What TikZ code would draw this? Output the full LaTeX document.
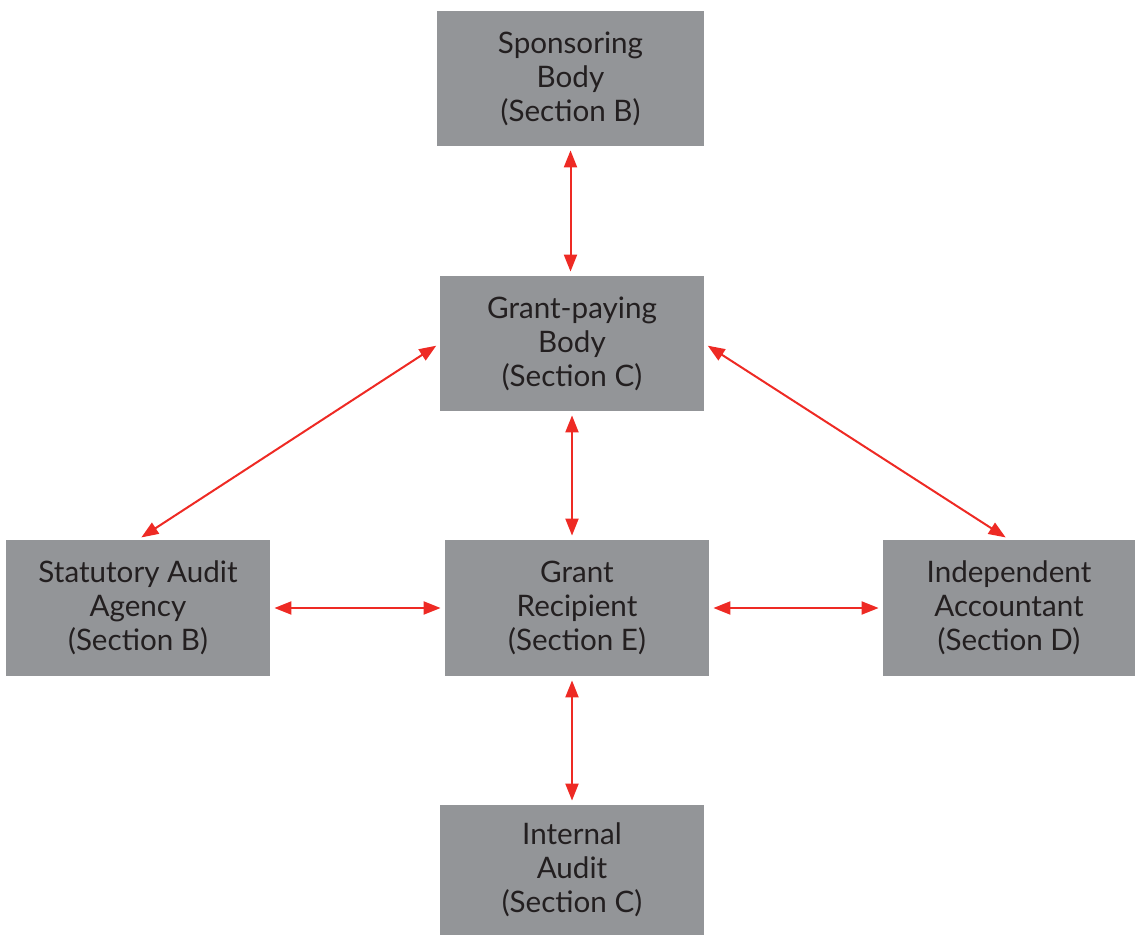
\documentclass[tikz,border=0pt]{standalone}
\usepackage{fontspec}
\setmainfont{Lato}
\usetikzlibrary{arrows.meta}
\definecolor{boxgray}{HTML}{939598}
\definecolor{linkred}{HTML}{EE2A24}
\definecolor{inkgray}{HTML}{231F20}
\tikzset{
  body/.style={fill=boxgray, draw=none, align=center, text=inkgray,
    font=\fontsize{14.8}{17}\selectfont, inner sep=0pt},
  link/.style={linkred, line width=1pt, {Triangle[length=8.5pt,width=6.5pt]}-{Triangle[length=8.5pt,width=6.5pt]},
    shorten <=2pt, shorten >=2pt}
}
\begin{document}
\begin{tikzpicture}[x=0.5pt, y=-0.5pt]
      \useasboundingbox (0,0) rectangle (1136,936);
      \draw
        (570.5,78.5) node[body, minimum width=133.5pt, minimum height=67.5pt] (spon){Sponsoring\\Body\\(Section B)}
        (572,343.5) node[body, minimum width=132pt, minimum height=67.5pt] (gpb){Grant-paying\\Body\\(Section C)}
        (138,608) node[body, minimum width=132pt, minimum height=68pt] (saa){Statutory Audit\\Agency\\(Section B)}
        (577,608) node[body, minimum width=132pt, minimum height=68pt] (gr){Grant\\Recipient\\(Section E)}
        (1009,608) node[body, minimum width=126pt, minimum height=68pt] (ia){Independent\\Accountant\\(Section D)}
        (572,870) node[body, minimum width=132pt, minimum height=65pt] (int){Internal\\Audit\\(Section C)};
      \begin{scope}[link]
        \draw (spon.south) to (spon.south |- gpb.north);
        \draw (gpb.west) to (saa.north);
        \draw (gpb.east) to (ia.north);
        \draw (gpb.south) to (gpb.south |- gr.north);
        \draw (saa) to (gr);
        \draw (gr) to (ia);
        \draw (int.north |- gr.south) to (int.north);
      \end{scope}
    \end{tikzpicture}
\end{document}
